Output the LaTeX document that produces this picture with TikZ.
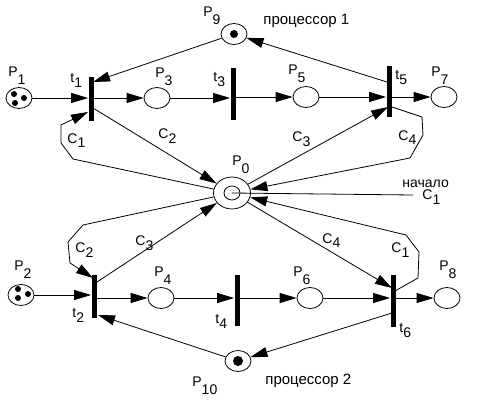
\documentclass[tikz,border=0pt]{standalone}
\usepackage{fontspec}
\setmainfont{Liberation Sans}
\usetikzlibrary{arrows.meta,shapes.geometric}
\tikzset{
  place/.style={ellipse,draw,minimum width=26pt,minimum height=21pt,inner sep=0pt},
  bar/.style={fill,inner sep=0pt,minimum width=5pt},
  dot/.style={circle,fill,inner sep=0pt,minimum size=6pt},
  lbl/.style={inner sep=0pt,anchor=base west,font=\fontsize{14}{14}\selectfont},
}
\newcommand{\lp}[1]{P\raisebox{-8pt}{#1}}
\newcommand{\lsub}[2]{#1\raisebox{-5pt}{#2}}
\begin{document}
\begin{tikzpicture}[x=1pt,y=-1pt,>={Triangle[length=17pt,width=10pt]},line width=0.8pt]
\useasboundingbox (0,0) rectangle (488,404);
% places
\node[place] (p1) at (19,98) {};
\node[place] (p3) at (157,98) {};
\node[place] (p5) at (306,97) {};
\node[place] (p7) at (444,97) {};
\node[place] (p9) at (234,34) {};
\node[place] (p2) at (21,295) {};
\node[place] (p4) at (161,298) {};
\node[place] (p6) at (310,298) {};
\node[place] (p8) at (447,298) {};
\node[place] (p10) at (238,361) {};
\node[place,minimum width=37pt,minimum height=32pt] (p0) at (232,193) {};
\node[ellipse,draw,minimum width=16pt,minimum height=14pt,inner sep=0pt] (p0in) at (p0) {};
% tokens
\node[dot] (p1a) at ([shift={(-5,-4)}]p1.center) {};
\node[dot] (p1b) at ([shift={(5,0)}]p1.center) {};
\node[dot] (p1c) at ([shift={(-4,5)}]p1.center) {};
\node[dot] (p2a) at ([shift={(-3,-6)}]p2.center) {};
\node[dot] (p2b) at ([shift={(7,-1)}]p2.center) {};
\node[dot] (p2c) at ([shift={(-3,3)}]p2.center) {};
\node[dot,minimum size=8pt] (p9a) at (p9) {};
\node[dot,minimum size=10pt] (p10a) at (p10) {};
% transitions
\node[bar,minimum height=44pt] (t1) at (91,99) {};
\node[bar,minimum height=52pt] (t3) at (233,94) {};
\node[bar,minimum height=51pt] (t5) at (389,92) {};
\node[bar,minimum height=43pt] (t2) at (94,296) {};
\node[bar,minimum height=51pt] (t4) at (237,300) {};
\node[bar,minimum height=52pt] (t6) at (393,301) {};
% labels
\node[lbl] (lp1) at (8,77) {\lp{1}};
\node[lbl] (lt1) at (70,83) {\lsub{t}{1}};
\node[lbl] (lp3) at (155,78) {\lp{3}};
\node[lbl] (lt3) at (213,82) {\lsub{t}{3}};
\node[lbl] (lp5) at (288,75) {\lp{5}};
\node[lbl] (lt5) at (395,80) {\lsub{t}{5}};
\node[lbl] (lp7) at (431,77) {\lp{7}};
\node[lbl] (lp9) at (203,17) {\lp{9}};
\node[lbl,font=\fontsize{15}{15}\selectfont] (cpu1) at (263,25) {процессор 1};
\node[lbl] (lp0) at (232,165) {\lp{0}};
\node[lbl] (lc1a) at (67,143) {\lsub{C}{1}};
\node[lbl] (lc2a) at (158,139) {\lsub{C}{2}};
\node[lbl] (lc3a) at (292,142) {\lsub{C}{3}};
\node[lbl] (lc4a) at (398,140) {\lsub{C}{4}};
\node[lbl] (start) at (402,187) {начало};
\node[lbl] (lc1) at (422,200) {\lsub{C}{1}};
\node[lbl] (lp2) at (14,270) {\lp{2}};
\node[lbl] (lt2) at (72,317) {\lsub{t}{2}};
\node[lbl] (lp4) at (154,276) {\lp{4}};
\node[lbl] (lt4) at (215,323) {\lsub{t}{4}};
\node[lbl] (lp6) at (293,276) {\lp{6}};
\node[lbl] (lt6) at (399,332) {\lsub{t}{6}};
\node[lbl] (lp8) at (439,270) {\lp{8}};
\node[lbl] (lp10) at (192,386) {\lp{10}};
\node[lbl,font=\fontsize{15}{15}\selectfont] (cpu2) at (265,384) {процессор 2};
\node[lbl] (lc2b) at (75,252) {\lsub{C}{2}};
\node[lbl] (lc3b) at (135,245) {\lsub{C}{3}};
\node[lbl] (lc4b) at (322,243) {\lsub{C}{4}};
\node[lbl] (lc1b) at (391,252) {\lsub{C}{1}};
\coordinate (c1end) at (413,195);
% upper chain
\draw[->] (p1) -- (p1 -| t1.west);
\draw[->] (t1.east |- p3) -- (p3);
\draw[->] (p3) -- (p3 -| t3.west);
\draw[->] (t3.east |- p5) -- (p5);
\draw[->] (p5) -- (p5 -| t5.west);
\draw[->] (t5.east |- p7) -- (p7);
\draw[->] (p9) -- ([shift={(2,-17)}]t1.center);
\draw[->] ([shift={(-2,-10)}]t5.center) -- (p9);
\draw[->] ([shift={(2,9)}]t1.center) -- (p0);
\draw[->] (p0) -- (73,159) -- (61,143) -- (61,125) -- ([shift={(-3,13)}]t1.center);
\draw[->] (p0) -- ([shift={(-1,15)}]t5.center);
\draw[->] ([shift={(3,15)}]t5.center) -- (422,117) -- (423,135) -- (410,158) -- (p0);
\draw (p0.center) -- (c1end);
% lower chain
\draw[->] (p2) -- (p2 -| t2.west);
\draw[->] (t2.east |- p4) -- (p4);
\draw[->] (p4) -- (p4 -| t4.west);
\draw[->] (t4.east |- p6) -- (p6);
\draw[->] (p6) -- (p6 -| t6.west);
\draw[->] (t6.east |- p8) -- (p8);
\draw[->] (p10) -- ([shift={(4,19)}]t2.center);
\draw[->] ([shift={(-1,12)}]t6.center) -- (p10);
\draw[->] ([shift={(3,-14)}]t2.center) -- (p0);
\draw[->] (p0) -- (83,225) -- (68,242) -- (70,263) -- ([shift={(-1,-18)}]t2.center);
\draw[->] (p0) -- ([shift={(-1,-13)}]t6.center);
\draw[->] ([shift={(2,-10)}]t6.center) -- (418,278) -- (419,252) -- (406,235) -- (p0);
\end{tikzpicture}
\end{document}
